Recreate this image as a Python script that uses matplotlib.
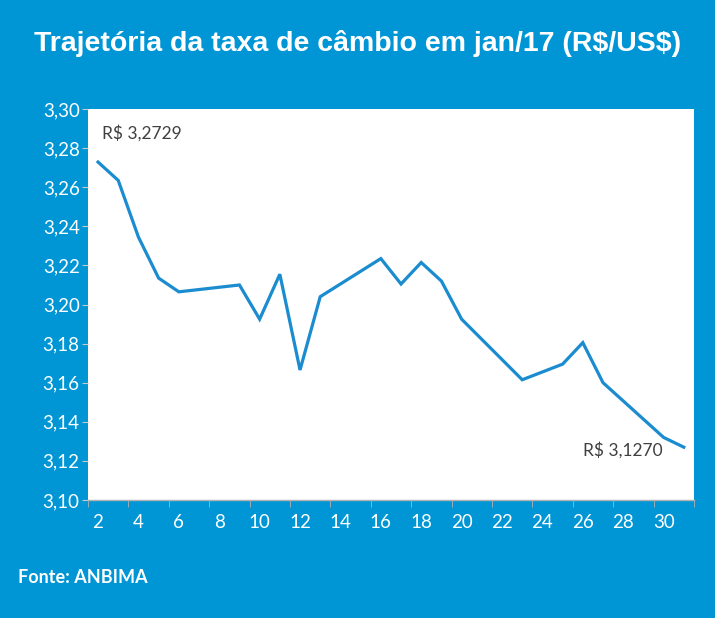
import numpy as np
import matplotlib.pyplot as plt

# dias úteis de jan/17 e taxa de câmbio (R$/US$)
days = [2, 3, 4, 5, 6, 9, 10, 11, 12, 13, 16, 17, 18, 19, 20, 23, 24, 25, 26, 27, 30, 31]
rate = [3.2729, 3.2635, 3.2345, 3.2135, 3.2065, 3.2100, 3.1925, 3.2155, 3.1665, 3.2040,
        3.2235, 3.2105, 3.2215, 3.2120, 3.1925, 3.1615, 3.1655, 3.1695, 3.1805, 3.1600,
        3.1320, 3.1270]
xticks = list(range(2, 31, 2))
yticks = [3.10, 3.12, 3.14, 3.16, 3.18, 3.20, 3.22, 3.24, 3.26, 3.28, 3.30]

bg = "#0096d6"
line_color = "#1a8ccf"

fig = plt.figure(figsize=(7.15, 6.18), dpi=100, facecolor=bg)
ax = fig.add_axes([0.123, 0.191, 0.8475, 0.6325])
ax.set_facecolor("white")

ax.plot(days, rate, color=line_color, linewidth=2.3, solid_joinstyle="miter")

ax.set_xlim(1.5, 31.5)
ax.set_ylim(3.10, 3.30)
ax.set_xticks(xticks)
ax.set_xticks(np.arange(1.5, 32, 2), minor=True)
ax.set_yticks(yticks)
ax.set_yticklabels([("%.2f" % v).replace(".", ",") for v in yticks])

ax.tick_params(axis="x", which="major", length=0, pad=10, labelsize=13.5, labelcolor="white")
ax.tick_params(axis="x", which="minor", length=5, color="#b0b0b0", direction="out")
ax.tick_params(axis="y", length=4, color="#c8c8c8", pad=2, labelsize=13.5, labelcolor="white")
for lbl in ax.get_xticklabels() + ax.get_yticklabels():
    lbl.set_family("Lato")

for s in ["top", "right", "left"]:
    ax.spines[s].set_visible(False)
ax.spines["bottom"].set_color("#b0b0b0")
ax.spines["bottom"].set_linewidth(1)

ax.text(2.2, 3.2877, "R\\$ 3,2729", fontsize=12.5, color="#404040", family="Lato", va="center", ha="left")
ax.text(29.95, 3.1257, "R\\$ 3,1270", fontsize=12.5, color="#404040", family="Lato", va="center", ha="right")

fig.text(0.5, 0.93, "Trajetória da taxa de câmbio em jan/17 (R\\$/US\\$)", ha="center", va="center",
         fontsize=20.5, fontweight="bold", color="white", family="Liberation Sans")
fig.text(0.025, 0.065, "Fonte: ANBIMA", ha="left", va="center", fontsize=13,
         fontweight="bold", color="white", family="Lato")

fig.savefig("out.png", dpi=100, facecolor=bg)
